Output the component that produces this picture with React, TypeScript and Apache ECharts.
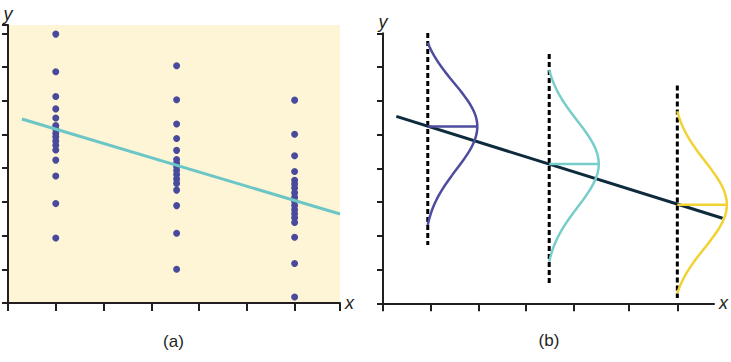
import React, { useEffect, useRef } from "react";
import * as echarts from "echarts";

// ---- panel (a): observed data ----
const groupXLeft = [1, 3.53, 6];
const column1 = [7.98, 6.86, 6.13, 5.76, 5.49, 5.27, 5.16, 5.04, 4.93, 4.81, 4.68, 4.54, 4.24, 3.77, 2.95, 1.93];
const column2 = [7.04, 6.03, 5.31, 4.88, 4.53, 4.26, 4.15, 4.04, 3.93, 3.81, 3.68, 3.55, 3.35, 2.89, 2.07, 1.0];
const column3 = [6.02, 5.01, 4.37, 3.9, 3.64, 3.53, 3.41, 3.27, 3.14, 3.01, 2.89, 2.77, 2.65, 2.53, 2.39, 1.95, 1.17, 0.18];
const leftFitX = [0.29, 6.95];
const leftFitY = [5.46, 2.64];

// ---- panel (b): model ----
const rightTicks = [0, 1, 2, 3, 4, 5.17, 6.18];
const rightFitX = [0.28, 7.13];
const rightFitY = [5.54, 2.52];
const groupXRight = [0.94, 3.49, 6.18];
const dashTop = [8.01, 7.39, 6.45];
const dashBottom = [1.73, 0.54, 0.16];
const curveMean = [5.24, 4.13, 2.92];
const curveTop = [7.72, 6.92, 5.69];
const curveBottom = [2.32, 1.23, 0.3];
const curveColors = ["#4d4c9e", "#76cdc9", "#f2d232"];
const curvePeak = 1.04;
const curveSigma = 1.28;

const AXIS = { color: "#231f20", width: 2 };
const FONT = "Liberation Sans, Arial, Helvetica, sans-serif";

export default function App() {
  const ref = useRef<HTMLDivElement>(null);
  useEffect(() => {
    if (!ref.current) return;
    const chart = echarts.init(ref.current, null, { renderer: "svg" });
    const columns = [column1, column2, column3];
    const scatterData: number[][] = [];
    columns.forEach((col, i) => col.forEach((v) => scatterData.push([groupXLeft[i], v])));

    const nameStyle = { fontFamily: FONT, fontSize: 18, fontStyle: "italic", color: "#231f20" };
    const baseX = {
      type: "value",
      min: 0,
      max: 6.95,
      interval: 1,
      splitLine: { show: false },
      axisLine: { show: true, lineStyle: AXIS },
      axisTick: { show: true, length: 8, lineStyle: AXIS },
      axisLabel: { show: false },
      name: "x",
      nameLocation: "end",
      nameGap: 5,
      nameTextStyle: nameStyle,
    };
    const baseY = {
      type: "value",
      min: 0,
      interval: 1,
      splitLine: { show: false },
      axisLine: { show: true, lineStyle: AXIS },
      axisTick: { show: true, length: 6, lineStyle: AXIS },
      axisLabel: { show: false },
      name: "y",
      nameLocation: "end",
      nameGap: 2,
      nameTextStyle: nameStyle,
    };

    const dashSeries = groupXRight.map((x, i) => ({
      type: "line",
      xAxisIndex: 1,
      yAxisIndex: 1,
      data: [
        [x, dashTop[i]],
        [x, dashBottom[i]],
      ],
      showSymbol: false,
      symbol: "none",
      clip: false,
      lineStyle: { color: "#000", width: 3, type: [5, 3] },
      z: 2,
    }));

    chart.setOption({
      animation: false,
      grid: [
        { left: 8, top: 25, width: 332, height: 278, show: true, backgroundColor: "#fdf5d6", borderWidth: 0 },
        { left: 383, top: 33.3, width: 332, height: 270 },
      ],
      xAxis: [
        { ...baseX, gridIndex: 0 },
        { ...baseX, gridIndex: 1, axisTick: { show: true, length: 8, lineStyle: AXIS, customValues: rightTicks } },
      ],
      yAxis: [
        { ...baseY, gridIndex: 0, max: 8.25 },
        { ...baseY, gridIndex: 1, max: 8 },
      ],
      series: [
        {
          type: "scatter",
          xAxisIndex: 0,
          yAxisIndex: 0,
          data: scatterData,
          symbolSize: 7,
          itemStyle: { color: "#4a4a9c", opacity: 1 },
          z: 2,
        },
        {
          type: "line",
          xAxisIndex: 0,
          yAxisIndex: 0,
          data: leftFitX.map((x, i) => [x, leftFitY[i]]),
          showSymbol: false,
          symbol: "none",
          lineStyle: { color: "#6cc6c6", width: 3 },
          z: 3,
        },
        ...dashSeries,
        {
          type: "custom",
          xAxisIndex: 1,
          yAxisIndex: 1,
          clip: false,
          z: 3,
          data: [[rightFitX[0], rightFitY[0], rightFitX[1], rightFitY[1]]],
          encode: { x: [0, 2], y: [1, 3] },
          renderItem: (_params: any, api: any) => {
            const a = api.coord([api.value(0), api.value(1)]);
            const b = api.coord([api.value(2), api.value(3)]);
            return {
              type: "line",
              shape: { x1: a[0], y1: a[1], x2: b[0], y2: b[1] },
              style: { stroke: "#0e2a3d", lineWidth: 3 },
            };
          },
        },
        {
          type: "custom",
          xAxisIndex: 1,
          yAxisIndex: 1,
          clip: false,
          z: 4,
          data: groupXRight.map((x, i) => [x, curveMean[i], curveTop[i], curveBottom[i]]),
          encode: { x: 0, y: 1 },
          renderItem: (params: any, api: any) => {
            const x0 = api.value(0);
            const m = api.value(1);
            const top = api.value(2);
            const bot = api.value(3);
            const color = curveColors[params.dataIndex];
            const s = curveSigma;
            const pts: number[][] = [];
            const N = 80;
            for (let k = 0; k <= N; k++) {
              const y = bot + ((top - bot) * k) / N;
              const d = y - m;
              const D = d >= 0 ? top - m : m - bot;
              const e0 = Math.exp((-D * D) / (2 * s * s));
              const f = Math.max(0, (Math.exp((-d * d) / (2 * s * s)) - e0) / (1 - e0));
              pts.push(api.coord([x0 + curvePeak * f, y]));
            }
            const c = api.coord([x0, m]);
            const p = api.coord([x0 + curvePeak, m]);
            return {
              type: "group",
              children: [
                { type: "polyline", shape: { points: pts }, style: { stroke: color, lineWidth: 2.5, fill: "none" } },
                { type: "line", shape: { x1: c[0], y1: c[1], x2: p[0], y2: p[1] }, style: { stroke: color, lineWidth: 2.5 } },
              ],
            };
          },
        },
      ],
      graphic: [
        {
          type: "text",
          x: 173.5,
          y: 341,
          style: { text: "(a)", font: `17px ${FONT}`, fill: "#231f20", textAlign: "center", textVerticalAlign: "middle" },
        },
        {
          type: "text",
          x: 549,
          y: 340,
          style: { text: "(b)", font: `17px ${FONT}`, fill: "#231f20", textAlign: "center", textVerticalAlign: "middle" },
        },
      ],
    });
    return () => chart.dispose();
  }, []);
  return <div ref={ref} style={{ position: "absolute", left: 0, top: 0, width: 731, height: 362 }} />;
}
